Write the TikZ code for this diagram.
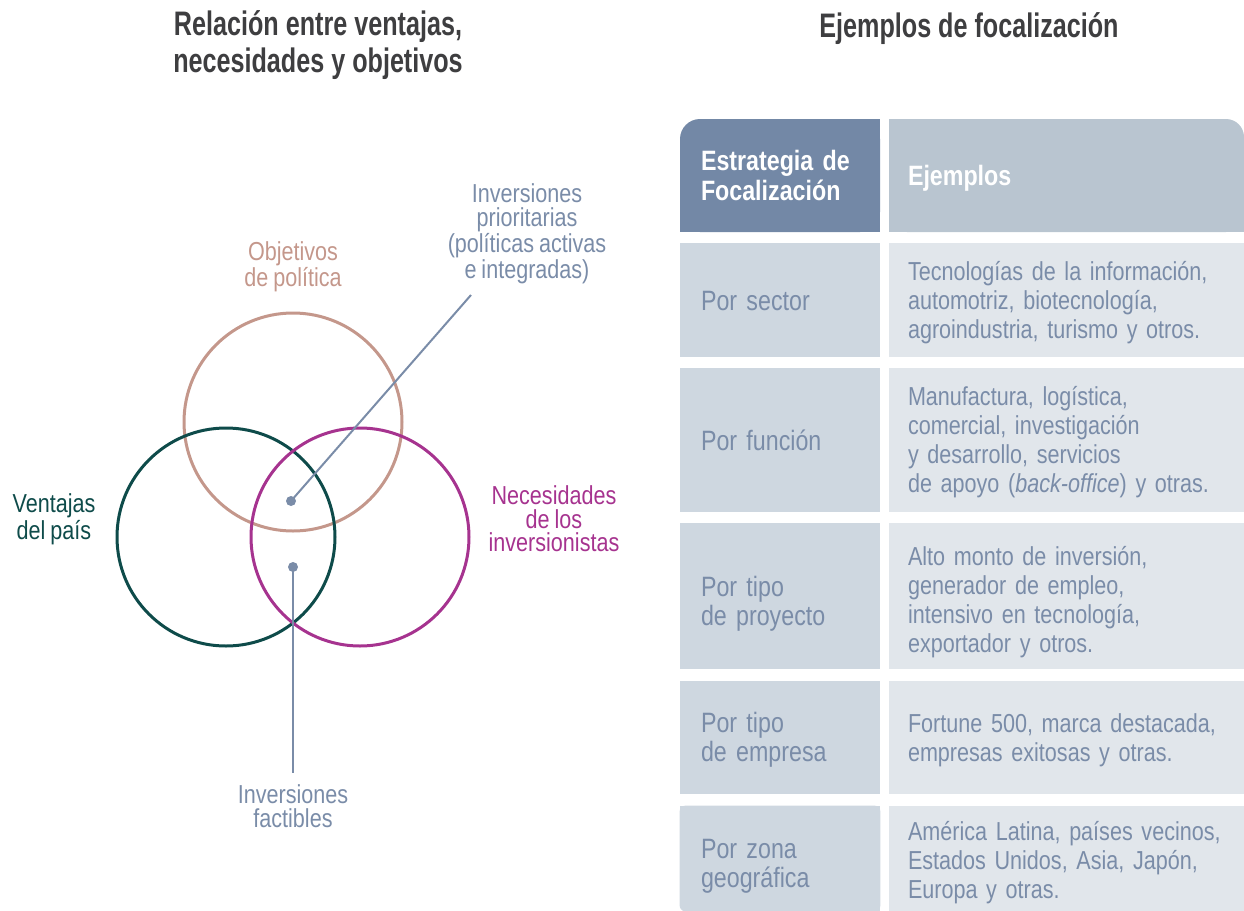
\documentclass[tikz,border=0pt]{standalone}
\usepackage{fontspec}
\setmainfont{Liberation Sans}[FakeStretch=0.83]
\newfontfamily\titlefont{Liberation Sans}[FakeStretch=0.74]
\usepackage{xcolor}
\usepackage{tikz}
\usetikzlibrary{positioning,backgrounds}
\definecolor{objcol}{HTML}{C4978B}
\definecolor{vencol}{HTML}{0E4B4A}
\definecolor{neccol}{HTML}{A6338F}
\definecolor{slate}{HTML}{7A8CA8}
\definecolor{hdleft}{HTML}{7388A6}
\definecolor{hdright}{HTML}{B9C5D0}
\definecolor{cellleft}{HTML}{CED7E0}
\definecolor{cellright}{HTML}{E1E6EB}
\definecolor{titlegray}{HTML}{3E3E40}
\newcommand{\tightsp}{\spaceskip=0.19em plus 0.05em minus 0.02em\relax}

\begin{document}
\begin{tikzpicture}[x=0.5pt, y=-0.5pt,
  ring/.style={circle, draw=#1, line width=1.5pt, minimum size=109pt, inner sep=0pt},
  vlabel/.style={align=center, text=#1, inner sep=0pt, font=\fontsize{13}{11.8}\selectfont\tightsp},
  dot/.style={circle, fill=slate, minimum size=5pt, inner sep=0pt},
  pointer/.style={draw=slate, line width=1pt},
  heading/.style={align=center, text=titlegray, inner sep=0pt, font=\titlefont\bfseries\fontsize{17}{18.5}\selectfont},
  lcell/.style={fill=cellleft, minimum width=100pt, text width=79pt, inner xsep=10.5pt, inner ysep=0pt, align=left, text=slate, font=\fontsize{14}{14.5}\selectfont\tightsp, execute at begin node=\rule{0pt}{#1pt}},
  rcell/.style={fill=cellright, minimum width=177.5pt, text width=158.5pt, inner xsep=9.5pt, inner ysep=0pt, align=left, text=slate, font=\fontsize{13}{14.5}\selectfont\tightsp, execute at begin node=\rule{0pt}{#1pt}},
  hcell/.style={minimum height=56.5pt, inner ysep=0pt, align=left, text=white, font=\bfseries\fontsize{14}{15}\selectfont}]
\useasboundingbox (0,0) rectangle (1244,911);

% titles
\node[heading] (title1) at (318,45.5) {Relación entre ventajas,\\necesidades y objetivos};
\node[heading] (title2) at (969,29) {Ejemplos de focalización};

% venn
\node[ring=objcol] (obj) at (293,422) {};
\node[ring=vencol] (ven) at (226,537) {};
\node[ring=neccol] (nec) at (360,537) {};

\node[vlabel=objcol] (objlab) at (293,267) {Objetivos\\de política};
\node[vlabel=vencol] (venlab) at (54,519) {Ventajas\\del país};
\node[vlabel=neccol] (neclab) at (554,519) {Necesidades\\de los\\inversionistas};
\node[vlabel=slate] (priolab) at (527,234) {Inversiones\\prioritarias\\(políticas activas\\e integradas)};
\node[vlabel=slate] (faclab) at (293,806) {Inversiones\\factibles};

\node[dot] (prio) at (291,501) {};
\node[dot] (fac) at (293,567) {};
\coordinate (priotip) at (471,295);
\coordinate (factip) at (293,773);
\draw[pointer] (prio.center) -- (priotip);
\draw[pointer] (fac.center) -- (factip);

% table header
\node[hcell, fill=hdleft, rounded corners=10pt, minimum width=100pt, text width=79pt, inner xsep=10.5pt] (hL) at (780,175.5) {Estrategia de\\Focalización};
\node[hcell, fill=hdright, rounded corners=9pt, minimum width=177.5pt, text width=158.5pt, inner xsep=9.5pt] (hR) at (1066.5,175.5) {\rule{0pt}{13pt}Ejemplos};
\begin{scope}[on background layer]
  \fill[hdleft] (hL.west) rectangle (hL.south east);
  \fill[hdleft] (hL.north) rectangle (hL.south east);
  \fill[hdright] (hR.west) rectangle (hR.south east);
  \fill[hdright] (hR.north west) rectangle (hR.south);
\end{scope}

% table rows
\foreach \n/\mid/\h/\ls/\rs/\lt/\rt in {
  1/300/57/10.5/12/{Por sector}/{Tecnologías de la información,\\automotriz, biotecnología,\\agroindustria, turismo y otros.},
  2/440/72/10.5/11.5/{Por función}/{Manufactura, logística,\\comercial, investigación\\y desarrollo, servicios\\de apoyo (\textit{back-office}) y otras.},
  3/596/73/17.5/16/{Por tipo\\de proyecto}/{Alto monto de inversión,\\generador de empleo,\\intensivo en tecnología,\\exportador y otros.},
  4/737.5/56.5/12.5/12/{Por tipo\\de empresa}/{Fortune 500, marca destacada,\\empresas exitosas y otras.}} {
  \node[lcell=\ls, minimum height=\h pt] (l\n) at (780,\mid) {\lt};
  \node[rcell=\rs, minimum height=\h pt] (r\n) at (1066.5,\mid) {\rt};
}
\node[lcell=17.5, fill=none, minimum height=52.5pt] (l5) at (780,858.5) {Por zona\\geográfica};
\node[rcell=14, minimum height=52.5pt] (r5) at (1066.5,858.5) {América Latina, países vecinos,\\Estados Unidos, Asia, Japón,\\Europa y otras.};
\begin{scope}[on background layer]
  \fill[cellleft, rounded corners=3pt] (l5.north west) rectangle (l5.south east);
  \fill[cellleft] (l5.north west) rectangle (l5.east);
  \fill[cellleft] (l5.north) rectangle (l5.south east);
\end{scope}
\end{tikzpicture}
\end{document}
